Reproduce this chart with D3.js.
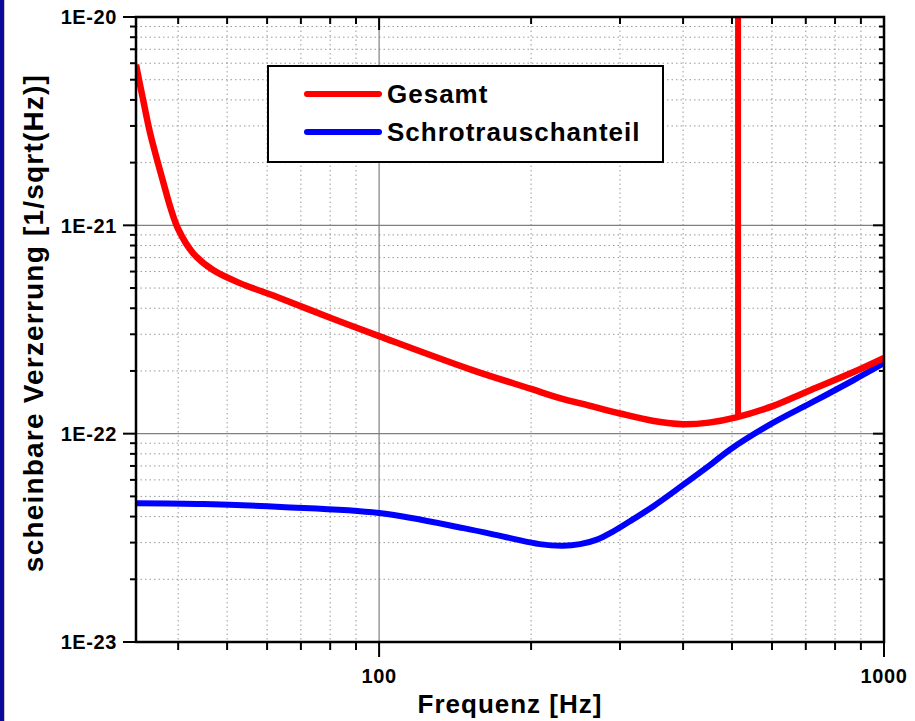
<!DOCTYPE html>
<html>
<head>
<meta charset="utf-8">
<script src="https://cdn.jsdelivr.net/npm/d3@7"></script>
<style>
  html, body { margin: 0; padding: 0; background: #fff; }
  svg { display: block; font-family: "Liberation Sans", Arial, sans-serif; font-weight: bold; }
</style>
</head>
<body>
<div id="chart"></div>
<script>
// Gesamt (total noise) curve
const gesamtFreq = [33, 34.1, 35.2, 37.4, 38.6, 40, 42.8, 46.9, 53, 62.8, 80, 100, 153, 200, 228, 262, 300, 350, 400, 450, 512, 604, 703, 868, 1000];
const gesamtVal  = [5.9e-21, 3.99e-21, 2.77e-21, 1.6e-21, 1.22e-21, 9.6e-22, 7.36e-22, 6.1e-22, 5.28e-22, 4.53e-22, 3.6e-22, 2.94e-22, 2.02e-22, 1.64e-22, 1.48e-22, 1.36e-22, 1.25e-22, 1.15e-22, 1.11e-22, 1.13e-22, 1.2e-22, 1.36e-22, 1.59e-22, 1.97e-22, 2.31e-22];

// resonance spike in the total curve
const spikeFreq = 514;
const spikeVal = [1.2e-22, 1e-19];

// Schrotrauschanteil (shot noise part)
const shotFreq = [33, 45, 64, 100, 147, 181, 208, 231, 250, 270, 290, 314, 350, 395, 450, 496, 600, 723, 868, 1000];
const shotVal  = [4.64e-23, 4.6e-23, 4.45e-23, 4.16e-23, 3.52e-23, 3.16e-23, 2.95e-23, 2.9e-23, 2.95e-23, 3.1e-23, 3.38e-23, 3.8e-23, 4.5e-23, 5.55e-23, 7.0e-23, 8.4e-23, 1.12e-22, 1.42e-22, 1.8e-22, 2.18e-22];

const xDomain = [33, 1000];
const yDomain = [1e-23, 1e-20];
const xLabels = [100, 1000];
const yLabels = [1e-20, 1e-21, 1e-22, 1e-23];
const yLabelText = ["1E-20", "1E-21", "1E-22", "1E-23"];

const legendNames = ["Gesamt", "Schrotrauschanteil"];
const colors = ["#ff0000", "#0000ff"];

const W = 915, H = 721;
const margin = {top: 17, right: 31, bottom: 79, left: 136};
const width = W - margin.left - margin.right;
const height = H - margin.top - margin.bottom;

var svg = d3.select("#chart").append("svg")
  .attr("width", W)
  .attr("height", H);

// blue strip on the left edge
svg.append("rect").attr("x", 0).attr("y", 0).attr("width", 4).attr("height", H).attr("fill", "#0a0a9c");
svg.append("line").attr("x1", 4.5).attr("x2", 4.5).attr("y1", 0).attr("y2", H).attr("stroke", "#c8c8c8");

var g = svg.append("g").attr("transform", "translate(" + margin.left + "," + margin.top + ")");

var x = d3.scaleLog().domain(xDomain).range([0, width]);
var y = d3.scaleLog().domain(yDomain).range([height, 0]);

// minor / major tick values
var xMinor = [], xMajor = [], yMinor = [], yMajor = [];
[10, 100].forEach(function(d) {
  for (var k = 1; k <= 9; k++) {
    var v = d * k;
    if (v < xDomain[0] || v > xDomain[1]) continue;
    if (k === 1) xMajor.push(v); else xMinor.push(v);
  }
});
xMajor.push(1000);
[1e-23, 1e-22, 1e-21].forEach(function(d) {
  for (var k = 1; k <= 9; k++) {
    if (k === 1) yMajor.push(d); else yMinor.push(d * k);
  }
});
yMajor.push(1e-20);

// grid
var grid = g.append("g").attr("class", "grid");
grid.selectAll(".xminor").data(xMinor).enter().append("line")
  .attr("x1", d => x(d)).attr("x2", d => x(d)).attr("y1", 0).attr("y2", height)
  .attr("stroke", "#9a9a9a").attr("stroke-dasharray", "1.5,3");
grid.selectAll(".yminor").data(yMinor).enter().append("line")
  .attr("y1", d => y(d)).attr("y2", d => y(d)).attr("x1", 0).attr("x2", width)
  .attr("stroke", "#9a9a9a").attr("stroke-dasharray", "1.5,3");
grid.selectAll(".xmajor").data(xMajor.filter(d => d > xDomain[0] && d < xDomain[1])).enter().append("line")
  .attr("x1", d => x(d)).attr("x2", d => x(d)).attr("y1", 0).attr("y2", height)
  .attr("stroke", "#808080").attr("stroke-width", 1.2);
grid.selectAll(".ymajor").data(yMajor.filter(d => d > yDomain[0] && d < yDomain[1])).enter().append("line")
  .attr("y1", d => y(d)).attr("y2", d => y(d)).attr("x1", 0).attr("x2", width)
  .attr("stroke", "#808080").attr("stroke-width", 1.2);

// curves
g.append("clipPath").attr("id", "clip").append("rect")
  .attr("width", width).attr("height", height);

var line = d3.line()
  .x(d => x(d[0]))
  .y(d => y(d[1]))
  .curve(d3.curveCatmullRom.alpha(0.5));

var plot = g.append("g").attr("clip-path", "url(#clip)");

plot.append("path")
  .datum(shotFreq.map((f, i) => [f, shotVal[i]]))
  .attr("fill", "none").attr("stroke", colors[1]).attr("stroke-width", 6)
  .attr("d", line);

plot.append("path")
  .datum(gesamtFreq.map((f, i) => [f, gesamtVal[i]]))
  .attr("fill", "none").attr("stroke", colors[0]).attr("stroke-width", 6.5)
  .attr("d", line);

plot.append("path")
  .datum(spikeVal.map(v => [spikeFreq, v]))
  .attr("fill", "none").attr("stroke", colors[0]).attr("stroke-width", 6)
  .attr("d", d3.line().x(d => x(d[0])).y(d => y(d[1])));

// axes: left/bottom ticks outward, top/right ticks inward
function tickLines(sel, vals, fn) {
  sel.selectAll("line.t").data(vals).enter().append("line")
    .attr("stroke", "#000").attr("stroke-width", 2)
    .each(fn);
}
var axes = g.append("g").attr("class", "axes");
tickLines(axes.append("g"), yMinor, function(d) {
  d3.select(this).attr("x1", -6).attr("x2", 0).attr("y1", y(d)).attr("y2", y(d));
});
tickLines(axes.append("g"), yMajor, function(d) {
  d3.select(this).attr("x1", -13).attr("x2", 0).attr("y1", y(d)).attr("y2", y(d));
});
tickLines(axes.append("g"), yMinor, function(d) {
  d3.select(this).attr("x1", width - 5).attr("x2", width).attr("y1", y(d)).attr("y2", y(d));
});
tickLines(axes.append("g"), yMajor, function(d) {
  d3.select(this).attr("x1", width - 11).attr("x2", width).attr("y1", y(d)).attr("y2", y(d));
});
tickLines(axes.append("g"), xMinor, function(d) {
  d3.select(this).attr("x1", x(d)).attr("x2", x(d)).attr("y1", height).attr("y2", height + 8);
});
tickLines(axes.append("g"), xMajor, function(d) {
  d3.select(this).attr("x1", x(d)).attr("x2", x(d)).attr("y1", height).attr("y2", height + 15);
});
tickLines(axes.append("g"), xMinor, function(d) {
  d3.select(this).attr("x1", x(d)).attr("x2", x(d)).attr("y1", 0).attr("y2", 7);
});
tickLines(axes.append("g"), xMajor, function(d) {
  d3.select(this).attr("x1", x(d)).attr("x2", x(d)).attr("y1", 0).attr("y2", 13);
});

axes.append("rect")
  .attr("width", width).attr("height", height)
  .attr("fill", "none").attr("stroke", "#000").attr("stroke-width", 2.5);

// tick labels
axes.selectAll(".ylab").data(yLabels).enter().append("text")
  .attr("x", -19).attr("y", d => y(d)).attr("dy", "0.36em")
  .attr("text-anchor", "end").attr("font-size", 20).attr("letter-spacing", 0.6)
  .text((d, i) => yLabelText[i]);
axes.selectAll(".xlab").data(xLabels).enter().append("text")
  .attr("x", d => x(d)).attr("y", height + 41)
  .attr("text-anchor", "middle").attr("font-size", 20).attr("letter-spacing", 0.6)
  .text(d => d);

// axis titles
svg.append("text")
  .attr("x", margin.left + width / 2).attr("y", 713)
  .attr("text-anchor", "middle").attr("font-size", 26).attr("letter-spacing", 1)
  .text("Frequenz [Hz]");
svg.append("text")
  .attr("transform", "translate(43," + 323 + ") rotate(-90)")
  .attr("text-anchor", "middle").attr("font-size", 28).attr("letter-spacing", 1.2)
  .text("scheinbare Verzerrung [1/sqrt(Hz)]");

// legend
var legend = svg.append("g").attr("transform", "translate(268,66)");
legend.append("rect").attr("width", 395).attr("height", 96)
  .attr("fill", "#fff").attr("stroke", "#000").attr("stroke-width", 2);
var item = legend.selectAll(".item").data(legendNames).enter().append("g")
  .attr("transform", (d, i) => "translate(0," + (28 + i * 38) + ")");
item.append("line").attr("x1", 39).attr("x2", 111).attr("y1", 0).attr("y2", 0)
  .attr("stroke", (d, i) => colors[i]).attr("stroke-width", 6).attr("stroke-linecap", "round");
item.append("text").attr("x", 119).attr("y", 9)
  .attr("font-size", 26).attr("letter-spacing", 1)
  .text(d => d);
</script>
</body>
</html>
